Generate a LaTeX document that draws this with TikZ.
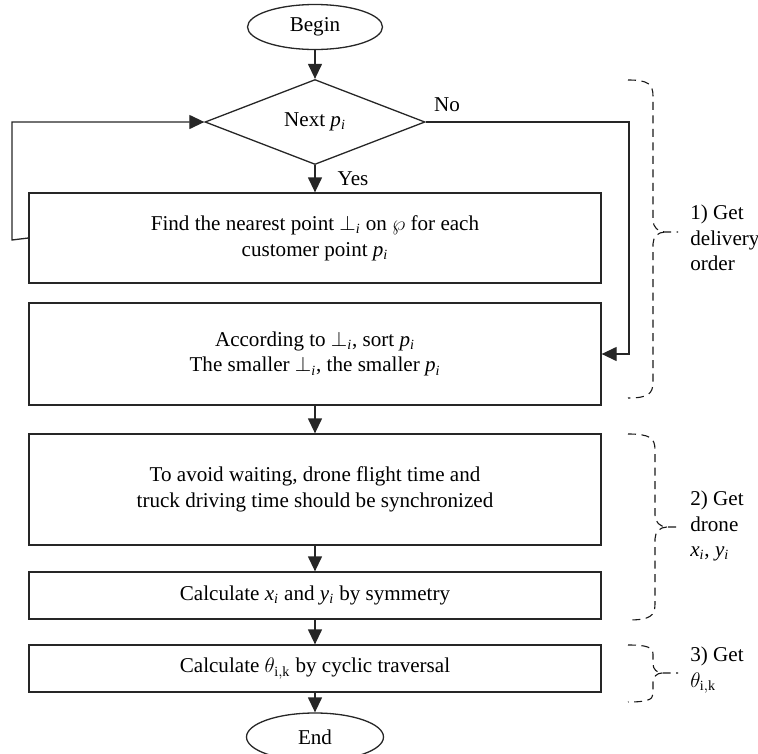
\documentclass[tikz,border=0pt]{standalone}
\usepackage{amssymb,amsmath}
\usepackage{fontspec}
\setmainfont{Liberation Serif}
\usetikzlibrary{shapes.geometric,arrows.meta}

\begin{document}
\begin{tikzpicture}[x = 0.2mm, y = -0.2mm, font = \fontsize{12}{14.6}\selectfont,
		stepbox/.style = {draw = black!85, line width = \mylinewidth, minimum width = 114.4mm, align = center, inner sep = 0pt},
		terminal/.style = {draw = black!85, ellipse, line width = \mylinewidth, minimum width = 27mm, minimum height = 9mm, inner sep = 0pt},
		decision/.style = {draw = black!85, diamond, line width = \mylinewidth, minimum width = 44mm, minimum height = 17mm, inner sep = 0pt},
		flow/.style = {-{Triangle[length = 3mm, width = 2.8mm]}, black!85, line width = \mylinewidth},
		groupbrace/.style = {black!90, dash pattern = on 1.6mm off 1.1mm, line width = 0.22mm},
		grouplabel/.style = {anchor = west, align = left, inner sep = 0pt}]
		\def\mylinewidth{0.26mm}
		\useasboundingbox (0,0) rectangle (758,754);
		%--------------------

		\node[terminal] (begin) at (315,27) {Begin};
		\node[decision] (next) at (315,122) {Next $\mathit{p}_\mathit{i}$};
		\node[stepbox, minimum height = 18mm] (nearest) at (315,238) {Find the nearest point $\bot_\mathit{i}$ on $\wp$ for each\\customer point $\mathit{p}_\mathit{i}$};
		\node[stepbox, minimum height = 20.4mm] (sort) at (315,354) {According to $\bot_\mathit{i}$, sort $\mathit{p}_\mathit{i}$\\The smaller $\bot_\mathit{i}$, the smaller $\mathit{p}_\mathit{i}$};
		\node[stepbox, minimum height = 22.2mm] (sync) at (315,489.5) {To avoid waiting, drone flight time and\\truck driving time should be synchronized};
		\node[stepbox, minimum height = 9.4mm] (symm) at (315,595.5) {Calculate $\mathit{x}_\mathit{i}$ and $\mathit{y}_\mathit{i}$ by symmetry};
		\node[stepbox, minimum height = 9.4mm] (cyclic) at (315,668.5) {Calculate $\theta_{\mathrm{i,k}}$ by cyclic traversal};
		\node[terminal, minimum width = 27.4mm, minimum height = 9.6mm] (finish) at (315,737) {End};

		\node (yes) at (353,179) {Yes};
		\node (no) at (447,105) {No};

		%--------------------
		\draw[flow] (begin.south) -- (next.north);
		\draw[flow] (next.south) -- (nearest.north);
		\draw[flow] (nearest.west) -- (12,240) |- (next.west);
		\draw[flow] (next.east) -- (629,122) |- (sort.east);
		\draw[flow] (sort.south) -- (sync.north);
		\draw[flow] (sync.south) -- (symm.north);
		\draw[flow] (symm.south) -- (cyclic.north);
		\draw[flow] (cyclic.south) -- (finish.north);

		%--------------------
		\draw[groupbrace] (628,80) .. controls (648,80) and (653,84) .. (653,96) -- (653,220) .. controls (653,227) and (658,232) .. (665,232) -- (678,232)
			(665,232) .. controls (658,232) and (653,237) .. (653,244) -- (653,382) .. controls (653,394) and (648,398) .. (628,398);
		\node[grouplabel] (order) at (690,238) {1) Get\\delivery\\order};

		\draw[groupbrace] (628,434) .. controls (650,434) and (655,438) .. (655,450) -- (655,515) .. controls (655,522) and (660,527) .. (667,527) -- (678,527)
			(667,527) .. controls (660,527) and (655,532) .. (655,539) -- (655,604) .. controls (655,616) and (650,620) .. (628,620);
		\node[grouplabel] (drone) at (690,526) {2) Get\\drone\\$\mathit{x}_\mathit{i}$, $\mathit{y}_\mathit{i}$};

		\draw[groupbrace] (628,645) .. controls (646,645) and (653,647) .. (653,654) -- (653,664) .. controls (653,669) and (657,673) .. (662,673) -- (678,673)
			(662,673) .. controls (657,673) and (653,677) .. (653,682) -- (653,694) .. controls (653,700) and (646,702) .. (628,702);
		\node[grouplabel] (angle) at (690,670) {3) Get\\$\theta_{\mathrm{i,k}}$};
	\end{tikzpicture}
\end{document}
